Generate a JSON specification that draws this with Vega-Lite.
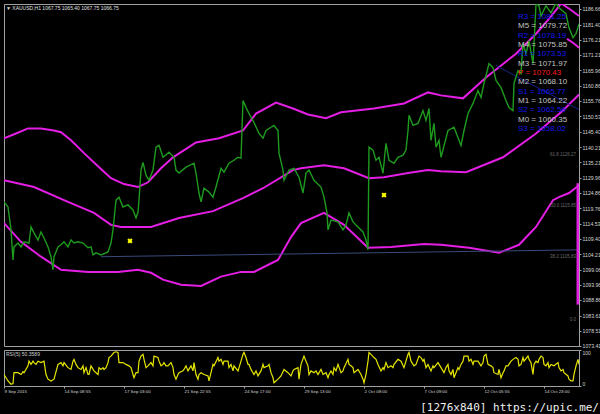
{
"$schema":"https://vega.github.io/schema/vega-lite/v6.json",
"background":"#000000",
"padding":{"left":3,"top":3,"right":0,"bottom":0},
"bounds":"flush",
"spacing":4,
"config":{"font":"Liberation Sans","view":{"stroke":"#a0a0a0","strokeWidth":1},
"axis":{"labelColor":"#d4d4d4","labelFont":"Liberation Sans","tickColor":"#a0a0a0","domainColor":"#a0a0a0","grid":false}},
"vconcat":[
{"width":575,"height":342,
"layer":[
{"data":{"values":[
{"b":"u","t":3,"p":1143.2},{"b":"u","t":15,"p":1144.8},{"b":"u","t":27,"p":1146.5},{"b":"u","t":40,"p":1146.5},{"b":"u","t":53,"p":1145.8},{"b":"u","t":60,"p":1145.2},{"b":"u","t":70,"p":1142.5},{"b":"u","t":83,"p":1138.2},{"b":"u","t":97,"p":1133.8},{"b":"u","t":110,"p":1129.8},{"b":"u","t":123,"p":1127.8},{"b":"u","t":137,"p":1126.8},{"b":"u","t":147,"p":1128.4},{"b":"u","t":160,"p":1133.1},{"b":"u","t":172,"p":1136.8},{"b":"u","t":195,"p":1141.8},{"b":"u","t":218,"p":1143.2},{"b":"u","t":242,"p":1145.8},{"b":"u","t":255,"p":1151.5},{"b":"u","t":275,"p":1155.2},{"b":"u","t":292,"p":1153.2},{"b":"u","t":307,"p":1151.2},{"b":"u","t":325,"p":1149.9},{"b":"u","t":340,"p":1151.9},{"b":"u","t":373,"p":1153.2},{"b":"u","t":403,"p":1154.9},{"b":"u","t":427,"p":1158.6},{"b":"u","t":440,"p":1157.6},{"b":"u","t":462,"p":1156.6},{"b":"u","t":485,"p":1163.6},{"b":"u","t":515,"p":1171.6},{"b":"u","t":535,"p":1178.3},{"b":"u","t":548,"p":1183.3},{"b":"u","t":556,"p":1186.7},{"b":"u","t":562,"p":1189.3},
{"b":"m","t":3,"p":1129.1},{"b":"m","t":33,"p":1126.8},{"b":"m","t":67,"p":1121.8},{"b":"m","t":93,"p":1118.1},{"b":"m","t":110,"p":1114.1},{"b":"m","t":120,"p":1113.4},{"b":"m","t":150,"p":1113.4},{"b":"m","t":178,"p":1116.4},{"b":"m","t":212,"p":1118.7},{"b":"m","t":242,"p":1123.1},{"b":"m","t":262,"p":1126.4},{"b":"m","t":292,"p":1132.5},{"b":"m","t":300,"p":1133.1},{"b":"m","t":323,"p":1134.1},{"b":"m","t":343,"p":1133.1},{"b":"m","t":368,"p":1129.8},{"b":"m","t":383,"p":1130.1},{"b":"m","t":407,"p":1131.5},{"b":"m","t":427,"p":1132.5},{"b":"m","t":440,"p":1132.1},{"b":"m","t":465,"p":1131.8},{"b":"m","t":502,"p":1136.8},{"b":"m","t":535,"p":1144.8},{"b":"m","t":562,"p":1152.5},{"b":"m","t":578,"p":1157.9},
{"b":"l","t":3,"p":1114.7},{"b":"l","t":20,"p":1108.4},{"b":"l","t":40,"p":1103.4},{"b":"l","t":60,"p":1099.0},{"b":"l","t":87,"p":1098.3},{"b":"l","t":117,"p":1098.3},{"b":"l","t":137,"p":1099.0},{"b":"l","t":150,"p":1098.0},{"b":"l","t":162,"p":1095.7},{"b":"l","t":180,"p":1094.0},{"b":"l","t":200,"p":1093.6},{"b":"l","t":220,"p":1096.7},{"b":"l","t":240,"p":1098.3},{"b":"l","t":253,"p":1098.3},{"b":"l","t":277,"p":1102.3},{"b":"l","t":290,"p":1110.0},{"b":"l","t":300,"p":1114.7},{"b":"l","t":323,"p":1118.1},{"b":"l","t":343,"p":1114.1},{"b":"l","t":367,"p":1106.4},{"b":"l","t":390,"p":1106.7},{"b":"l","t":423,"p":1107.7},{"b":"l","t":440,"p":1107.4},{"b":"l","t":468,"p":1106.4},{"b":"l","t":498,"p":1104.7},{"b":"l","t":518,"p":1107.4},{"b":"l","t":535,"p":1113.4},{"b":"l","t":552,"p":1122.4},{"b":"l","t":558,"p":1123.4},{"b":"l","t":568,"p":1124.8},{"b":"l","t":578,"p":1127.4},
{"b":"u2","t":561,"p":1188.3},{"b":"u2","t":570,"p":1186.3},{"b":"u2","t":578,"p":1184.3},
{"b":"u3","t":566,"p":1176.6},{"b":"u3","t":572,"p":1175.3},{"b":"u3","t":578,"p":1173.6}]},
"mark":{"type":"line","color":"#e41ee4","strokeWidth":2,"clip":true},
"encoding":{"x":{"field":"t","type":"quantitative","scale":{"domain":[3,578],"nice":false,"zero":false},"axis":null},
"y":{"field":"p","type":"quantitative","scale":{"domain":[1073.4,1188.3],"nice":false,"zero":false},
"axis":{"orient":"right","title":null,"values":[1186.66,1181.40,1176.21,1171.21,1165.96,1160.86,1155.76,1150.53,1145.40,1140.21,1135.21,1129.96,1124.86,1119.76,1114.53,1109.40,1104.21,1099.06,1093.96,1088.86,1083.61,1078.51,1073.41],"format":".2f","labelFontSize":5.2,"tickSize":2,"labelPadding":1,"labelFlush":false,"labelOverlap":false}},
"detail":{"field":"b"}}},
{"data":{"values":[{"t":100,"p":1103.4},{"t":578,"p":1105.7}]},
"mark":{"type":"line","strokeWidth":1,"color":"#3a4a7c","clip":true},
"encoding":{"x":{"field":"t","type":"quantitative","scale":{"domain":[3,578],"nice":false,"zero":false},"axis":null},
"y":{"field":"p","type":"quantitative","scale":{"domain":[1073.4,1188.3],"nice":false,"zero":false},"axis":null}}},
{"data":{"values":[{"t":495,"p":1167.6},{"t":578,"p":1152.8}]},
"mark":{"type":"line","strokeWidth":1,"color":"#16228c","clip":true},
"encoding":{"x":{"field":"t","type":"quantitative","scale":{"domain":[3,578],"nice":false,"zero":false},"axis":null},
"y":{"field":"p","type":"quantitative","scale":{"domain":[1073.4,1188.3],"nice":false,"zero":false},"axis":null}}},
{"data":{"values":[
{"t":3,"p":1121.8},{"t":7,"p":1120.1},{"t":10,"p":1112.4},{"t":12,"p":1102.3},{"t":13,"p":1106.7},{"t":17,"p":1108.0},{"t":20,"p":1106.7},{"t":23,"p":1108.4},{"t":28,"p":1108.0},{"t":30,"p":1113.4},{"t":33,"p":1111.4},{"t":37,"p":1109.0},{"t":40,"p":1111.7},{"t":43,"p":1109.7},{"t":47,"p":1106.7},{"t":50,"p":1103.4},{"t":52,"p":1099.0},{"t":53,"p":1103.4},{"t":57,"p":1106.7},{"t":60,"p":1107.4},{"t":63,"p":1108.4},{"t":67,"p":1106.7},{"t":70,"p":1109.0},{"t":73,"p":1108.0},{"t":77,"p":1108.4},{"t":82,"p":1108.0},{"t":87,"p":1106.4},{"t":90,"p":1106.7},{"t":92,"p":1104.0},{"t":95,"p":1104.7},{"t":100,"p":1104.0},{"t":107,"p":1105.0},{"t":110,"p":1108.0},{"t":112,"p":1112.4},{"t":115,"p":1122.4},{"t":118,"p":1123.4},{"t":122,"p":1120.1},{"t":127,"p":1120.8},{"t":132,"p":1119.1},{"t":135,"p":1116.4},{"t":137,"p":1118.4},{"t":138,"p":1122.4},{"t":140,"p":1132.5},{"t":142,"p":1135.1},{"t":145,"p":1130.8},{"t":148,"p":1129.1},{"t":152,"p":1132.5},{"t":155,"p":1140.2},{"t":158,"p":1140.8},{"t":162,"p":1136.8},{"t":168,"p":1138.5},{"t":173,"p":1136.8},{"t":175,"p":1132.5},{"t":178,"p":1131.5},{"t":185,"p":1133.5},{"t":193,"p":1134.8},{"t":195,"p":1131.5},{"t":198,"p":1124.8},{"t":200,"p":1121.8},{"t":203,"p":1126.4},{"t":208,"p":1125.1},{"t":212,"p":1123.4},{"t":215,"p":1126.8},{"t":220,"p":1133.1},{"t":223,"p":1131.8},{"t":228,"p":1134.8},{"t":233,"p":1135.8},{"t":237,"p":1136.8},{"t":240,"p":1136.5},{"t":242,"p":1155.9},{"t":245,"p":1153.5},{"t":248,"p":1151.5},{"t":253,"p":1148.5},{"t":258,"p":1144.8},{"t":262,"p":1143.2},{"t":265,"p":1145.8},{"t":270,"p":1146.9},{"t":273,"p":1147.5},{"t":277,"p":1145.8},{"t":278,"p":1138.2},{"t":282,"p":1132.5},{"t":283,"p":1129.1},{"t":288,"p":1132.5},{"t":293,"p":1133.1},{"t":298,"p":1130.1},{"t":302,"p":1124.8},{"t":305,"p":1131.5},{"t":308,"p":1132.5},{"t":313,"p":1129.1},{"t":320,"p":1126.8},{"t":323,"p":1123.4},{"t":326,"p":1118.1},{"t":327,"p":1112.4},{"t":330,"p":1115.7},{"t":337,"p":1115.1},{"t":342,"p":1112.4},{"t":345,"p":1114.1},{"t":348,"p":1118.1},{"t":352,"p":1115.1},{"t":357,"p":1113.4},{"t":362,"p":1111.7},{"t":365,"p":1109.0},{"t":367,"p":1105.7},{"t":368,"p":1140.2},{"t":372,"p":1139.2},{"t":375,"p":1135.8},{"t":378,"p":1136.8},{"t":382,"p":1131.5},{"t":385,"p":1141.5},{"t":388,"p":1135.8},{"t":393,"p":1134.8},{"t":397,"p":1136.8},{"t":402,"p":1137.5},{"t":405,"p":1139.2},{"t":407,"p":1145.8},{"t":408,"p":1150.9},{"t":412,"p":1147.5},{"t":417,"p":1148.2},{"t":422,"p":1152.5},{"t":425,"p":1149.2},{"t":428,"p":1153.2},{"t":430,"p":1142.5},{"t":433,"p":1148.2},{"t":435,"p":1140.2},{"t":438,"p":1142.5},{"t":440,"p":1136.8},{"t":447,"p":1145.8},{"t":453,"p":1146.9},{"t":460,"p":1140.8},{"t":463,"p":1145.8},{"t":467,"p":1151.5},{"t":472,"p":1154.9},{"t":477,"p":1159.2},{"t":480,"p":1156.9},{"t":483,"p":1161.6},{"t":488,"p":1168.3},{"t":492,"p":1166.9},{"t":495,"p":1162.6},{"t":500,"p":1160.2},{"t":505,"p":1155.9},{"t":508,"p":1153.5},{"t":512,"p":1152.5},{"t":513,"p":1161.6},{"t":517,"p":1165.9},{"t":520,"p":1164.9},{"t":522,"p":1175.0},{"t":525,"p":1171.6},{"t":528,"p":1176.0},{"t":532,"p":1168.3},{"t":535,"p":1188.3},{"t":538,"p":1187.7},{"t":540,"p":1184.3},{"t":545,"p":1187.7},{"t":550,"p":1185.3},{"t":555,"p":1188.7},{"t":558,"p":1187.0},{"t":565,"p":1185.0},{"t":568,"p":1180.3},{"t":572,"p":1177.0},{"t":575,"p":1178.3},{"t":578,"p":1181.6}]},
"mark":{"type":"line","color":"#1e9a1e","strokeWidth":1.4,"clip":true},
"encoding":{"x":{"field":"t","type":"quantitative","scale":{"domain":[3,578],"nice":false,"zero":false},"axis":null},
"y":{"field":"p","type":"quantitative","scale":{"domain":[1073.4,1188.3],"nice":false,"zero":false},"axis":null}}},
{"data":{"values":[{"t":577,"lo":1087.3,"hi":1128.1}]},
"mark":{"type":"rule","color":"#e41ee4","strokeWidth":3,"clip":true},
"encoding":{"x":{"field":"t","type":"quantitative","scale":{"domain":[3,578],"nice":false,"zero":false},"axis":null},
"y":{"field":"lo","type":"quantitative","scale":{"domain":[1073.4,1188.3],"nice":false,"zero":false},"axis":null},"y2":{"field":"hi"}}},
{"data":{"values":[{"t":129,"p":1108.7},{"t":383,"p":1124.1}]},
"mark":{"type":"point","shape":"cross","angle":45,"filled":true,"size":28,"color":"#ffff00","opacity":1},
"encoding":{"x":{"field":"t","type":"quantitative","scale":{"domain":[3,578],"nice":false,"zero":false},"axis":null},
"y":{"field":"p","type":"quantitative","scale":{"domain":[1073.4,1188.3],"nice":false,"zero":false},"axis":null}}},
{"data":{"values":[{"s":"61.8  1126.27","p":1136.8},{"s":"50.0  1115.85","p":1119.7},{"s":"38.2  1105.83","p":1102.7},{"s":"0.0","p":1081.3}]},
"mark":{"type":"text","align":"right","baseline":"bottom","fontSize":4.5,"color":"#6a6a6a"},
"encoding":{"x":{"datum":575,"type":"quantitative","scale":{"domain":[3,578],"nice":false,"zero":false},"axis":null},
"y":{"field":"p","type":"quantitative","scale":{"domain":[1073.4,1188.3],"nice":false,"zero":false},"axis":null},"text":{"field":"s"}}},
{"data":{"values":[
{"r":1,"s":"R3 = 1081.25","k":"level"},{"r":2,"s":"M5 = 1079.72","k":"mid"},{"r":3,"s":"R2 = 1078.19","k":"level"},{"r":4,"s":"M4 = 1075.85","k":"mid"},{"r":5,"s":"R1 = 1073.53","k":"level"},{"r":6,"s":"M3 = 1071.97","k":"mid"},{"r":7,"s":"P = 1070.43","k":"pivot"},{"r":8,"s":"M2 = 1068.10","k":"mid"},{"r":9,"s":"S1 = 1065.77","k":"level"},{"r":10,"s":"M1 = 1064.22","k":"mid"},{"r":11,"s":"S2 = 1062.58","k":"level"},{"r":12,"s":"M0 = 1060.35","k":"mid"},{"r":13,"s":"S3 = 1058.02","k":"level"}]},
"mark":{"type":"text","align":"left","baseline":"middle","fontSize":8,"font":"Liberation Sans"},
"encoding":{"x":{"datum":517,"type":"quantitative","scale":{"domain":[3,578],"nice":false,"zero":false},"axis":null},
"y":{"field":"r","type":"quantitative","scale":{"domain":[-0.39,36.26],"reverse":true,"nice":false,"zero":false},"axis":null},
"text":{"field":"s"},
"color":{"field":"k","type":"nominal","scale":{"domain":["level","mid","pivot"],"range":["#1818ee","#c4c4c4","#ff1a1a"]},"legend":null}}},
{"data":{"values":[{"s":"▼ XAUUSD,H1  1067.75 1065.40 1067.75 1066.75"}]},
"mark":{"type":"text","align":"left","baseline":"middle","fontSize":5,"color":"#e0e0e0"},
"encoding":{"x":{"datum":5,"type":"quantitative","scale":{"domain":[3,578],"nice":false,"zero":false},"axis":null},
"y":{"datum":0,"type":"quantitative","scale":{"domain":[-0.39,36.26],"reverse":true,"nice":false,"zero":false},"axis":null},"text":{"field":"s"}}}
],
"resolve":{"scale":{"y":"independent","color":"independent"}}
},
{"width":575,"height":36,
"layer":[
{"data":{"values":[
{"t":3,"r":32},{"t":7,"r":14},{"t":10,"r":5},{"t":12,"r":7},{"t":13,"r":37},{"t":17,"r":37},{"t":20,"r":32},{"t":22,"r":40},{"t":23,"r":37},{"t":27,"r":56},{"t":28,"r":69},{"t":30,"r":60},{"t":32,"r":69},{"t":33,"r":65},{"t":35,"r":60},{"t":37,"r":69},{"t":40,"r":65},{"t":43,"r":69},{"t":45,"r":32},{"t":47,"r":19},{"t":50,"r":14},{"t":53,"r":19},{"t":57,"r":60},{"t":60,"r":65},{"t":62,"r":56},{"t":63,"r":65},{"t":67,"r":51},{"t":70,"r":46},{"t":72,"r":69},{"t":73,"r":74},{"t":75,"r":60},{"t":77,"r":51},{"t":80,"r":46},{"t":82,"r":56},{"t":83,"r":37},{"t":85,"r":51},{"t":87,"r":32},{"t":88,"r":32},{"t":90,"r":56},{"t":93,"r":42},{"t":97,"r":32},{"t":98,"r":51},{"t":100,"r":46},{"t":102,"r":51},{"t":103,"r":46},{"t":105,"r":51},{"t":107,"r":65},{"t":108,"r":79},{"t":110,"r":83},{"t":113,"r":93},{"t":115,"r":95},{"t":117,"r":93},{"t":118,"r":65},{"t":122,"r":65},{"t":125,"r":60},{"t":128,"r":56},{"t":130,"r":51},{"t":132,"r":32},{"t":133,"r":23},{"t":135,"r":37},{"t":137,"r":37},{"t":138,"r":69},{"t":140,"r":83},{"t":142,"r":88},{"t":143,"r":74},{"t":145,"r":51},{"t":147,"r":56},{"t":150,"r":65},{"t":152,"r":56},{"t":153,"r":83},{"t":157,"r":79},{"t":158,"r":69},{"t":160,"r":56},{"t":162,"r":60},{"t":163,"r":65},{"t":165,"r":56},{"t":167,"r":56},{"t":170,"r":65},{"t":172,"r":51},{"t":173,"r":32},{"t":175,"r":19},{"t":177,"r":32},{"t":178,"r":37},{"t":182,"r":42},{"t":183,"r":46},{"t":185,"r":56},{"t":187,"r":42},{"t":190,"r":56},{"t":192,"r":42},{"t":193,"r":65},{"t":195,"r":32},{"t":197,"r":19},{"t":198,"r":32},{"t":200,"r":37},{"t":203,"r":32},{"t":207,"r":28},{"t":208,"r":14},{"t":210,"r":37},{"t":212,"r":60},{"t":213,"r":56},{"t":217,"r":79},{"t":218,"r":69},{"t":220,"r":74},{"t":222,"r":60},{"t":223,"r":69},{"t":227,"r":69},{"t":228,"r":51},{"t":230,"r":60},{"t":232,"r":42},{"t":233,"r":56},{"t":237,"r":42},{"t":240,"r":69},{"t":242,"r":88},{"t":243,"r":93},{"t":245,"r":79},{"t":247,"r":60},{"t":248,"r":60},{"t":250,"r":46},{"t":252,"r":37},{"t":253,"r":32},{"t":255,"r":42},{"t":257,"r":28},{"t":260,"r":42},{"t":262,"r":60},{"t":263,"r":51},{"t":267,"r":56},{"t":268,"r":60},{"t":270,"r":37},{"t":272,"r":23},{"t":273,"r":9},{"t":277,"r":19},{"t":280,"r":28},{"t":283,"r":46},{"t":287,"r":37},{"t":290,"r":28},{"t":292,"r":42},{"t":293,"r":46},{"t":297,"r":51},{"t":298,"r":19},{"t":300,"r":60},{"t":303,"r":83},{"t":305,"r":69},{"t":307,"r":56},{"t":308,"r":32},{"t":310,"r":42},{"t":313,"r":37},{"t":315,"r":42},{"t":317,"r":32},{"t":320,"r":46},{"t":322,"r":32},{"t":325,"r":37},{"t":327,"r":23},{"t":328,"r":32},{"t":330,"r":42},{"t":332,"r":32},{"t":333,"r":51},{"t":335,"r":42},{"t":337,"r":60},{"t":340,"r":37},{"t":342,"r":42},{"t":343,"r":51},{"t":347,"r":74},{"t":348,"r":60},{"t":350,"r":56},{"t":352,"r":51},{"t":353,"r":37},{"t":357,"r":46},{"t":360,"r":32},{"t":362,"r":19},{"t":363,"r":9},{"t":365,"r":32},{"t":367,"r":69},{"t":368,"r":93},{"t":370,"r":88},{"t":373,"r":79},{"t":375,"r":74},{"t":377,"r":60},{"t":380,"r":42},{"t":382,"r":51},{"t":383,"r":46},{"t":385,"r":65},{"t":387,"r":51},{"t":390,"r":56},{"t":392,"r":51},{"t":393,"r":60},{"t":397,"r":74},{"t":400,"r":69},{"t":403,"r":51},{"t":407,"r":88},{"t":408,"r":93},{"t":410,"r":69},{"t":413,"r":56},{"t":415,"r":60},{"t":418,"r":83},{"t":420,"r":79},{"t":422,"r":69},{"t":423,"r":74},{"t":425,"r":51},{"t":427,"r":60},{"t":430,"r":42},{"t":432,"r":56},{"t":433,"r":51},{"t":437,"r":65},{"t":440,"r":51},{"t":443,"r":37},{"t":445,"r":51},{"t":447,"r":60},{"t":448,"r":42},{"t":450,"r":32},{"t":452,"r":46},{"t":453,"r":23},{"t":455,"r":37},{"t":457,"r":51},{"t":458,"r":46},{"t":460,"r":60},{"t":462,"r":69},{"t":463,"r":83},{"t":467,"r":83},{"t":468,"r":69},{"t":470,"r":74},{"t":472,"r":60},{"t":473,"r":69},{"t":477,"r":69},{"t":480,"r":56},{"t":482,"r":65},{"t":483,"r":83},{"t":485,"r":88},{"t":487,"r":60},{"t":490,"r":56},{"t":492,"r":51},{"t":493,"r":37},{"t":497,"r":32},{"t":498,"r":46},{"t":500,"r":23},{"t":502,"r":37},{"t":503,"r":42},{"t":505,"r":56},{"t":507,"r":56},{"t":510,"r":69},{"t":512,"r":74},{"t":515,"r":79},{"t":517,"r":74},{"t":518,"r":56},{"t":520,"r":60},{"t":522,"r":79},{"t":523,"r":69},{"t":527,"r":83},{"t":528,"r":74},{"t":530,"r":65},{"t":532,"r":32},{"t":533,"r":60},{"t":535,"r":69},{"t":537,"r":65},{"t":538,"r":74},{"t":540,"r":83},{"t":542,"r":79},{"t":543,"r":60},{"t":545,"r":56},{"t":547,"r":65},{"t":548,"r":51},{"t":550,"r":60},{"t":553,"r":56},{"t":557,"r":65},{"t":558,"r":51},{"t":560,"r":42},{"t":562,"r":46},{"t":563,"r":37},{"t":567,"r":28},{"t":568,"r":19},{"t":570,"r":14},{"t":572,"r":14},{"t":573,"r":32},{"t":575,"r":56},{"t":577,"r":74},{"t":578,"r":60}]},
"mark":{"type":"line","color":"#e6e600","strokeWidth":1.2,"clip":true},
"encoding":{"x":{"field":"t","type":"quantitative","scale":{"domain":[3,578],"nice":false,"zero":false},
"axis":{"title":null,"values":[3,33,63,93,123,153,183,213,243,273,303,333,363,393,423,453,483,513,543,573],
"labelExpr":"['9 Sep 2015','10 Sep 20:00','14 Sep 08:55','15 Sep 17:00','17 Sep 03:00','18 Sep 12:00','21 Sep 22:55','23 Sep 08:00','24 Sep 17:00','28 Sep 04:55','29 Sep 13:00','30 Sep 22:00','2 Oct 08:00','5 Oct 23:55','7 Oct 09:00','8 Oct 16:00','12 Oct 05:55','13 Oct 14:00','14 Oct 23:00','16 Oct 09:00'][round((datum.value-3)/30)]",
"labelAlign":"left","labelOverlap":false,"labelFlush":false,"labelFontSize":4.4,"tickSize":2,"labelPadding":1}},
"y":{"field":"r","type":"quantitative","scale":{"domain":[0,100],"nice":false},
"axis":{"orient":"right","title":null,"values":[0,32,100],"labelFlush":true,"labelOverlap":false,"labelFontSize":5,"tickSize":2,"labelPadding":1}}}},
{"data":{"values":[{"s":"RSI(5) 50.3589"}]},
"mark":{"type":"text","align":"left","baseline":"middle","fontSize":5,"color":"#d0d0d0"},
"encoding":{"x":{"datum":5,"type":"quantitative"},"y":{"datum":89,"type":"quantitative"},"text":{"field":"s"}}},
{"data":{"values":[{"s":"[1276x840] https://upic.me/"}]},
"mark":{"type":"text","align":"right","baseline":"middle","fontSize":11,"font":"DejaVu Sans Mono","color":"#f0f0f0","clip":false},
"encoding":{"x":{"datum":598,"type":"quantitative"},"y":{"datum":-60,"type":"quantitative"},"text":{"field":"s"}}}
]}
]
}
